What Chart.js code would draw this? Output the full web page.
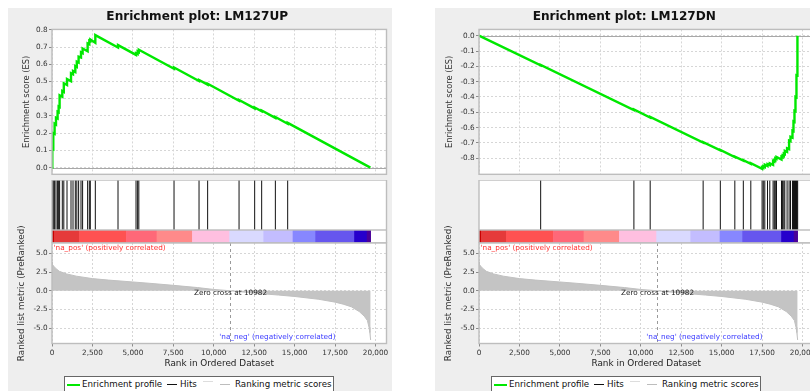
<!DOCTYPE html>
<html>
<head>
<meta charset="utf-8">
<script src="https://cdn.jsdelivr.net/npm/chart.js@4.4.1/dist/chart.umd.min.js"></script>
<style>
  html, body { margin: 0; padding: 0; width: 810px; height: 391px; overflow: hidden; background: #fff; }
  .panel { position: absolute; top: 8px; width: 384px; height: 383px; background: #eeeeee; }
  .panel canvas { position: absolute; left: 0; }
  .legend { position: absolute; left: 56px; top: 368px; width: 268px; height: 20px;
            border: 1px solid #666; background: #fff; font: 8.7px "DejaVu Sans"; color: #111; }
  .legend span { position: absolute; top: 1px; line-height: 12px; white-space: nowrap; }
  .legend i { position: absolute; height: 0; border-top: 1px solid; }
</style>
</head>
<body>
<div class="panel" id="panelUp" style="left:8px"></div>
<div class="panel" id="panelDn" style="left:435px"></div>
<script>
// ---- ranked list (shared by both gene sets) ----
const rankTicks = [0, 2500, 5000, 7500, 10000, 12500, 15000, 17500, 20000];
const rankMax = 20680;
const zeroCross = 10982;

const metricRanks  = [0, 30, 100, 200, 450, 900, 1500, 2500, 3500, 5000, 6000, 7500, 9000, 10000, 10982,
                      12500, 14000, 15000, 16500, 17500, 18000, 18500, 19000, 19300, 19500, 19600, 19650, 19700];
const metricValues = [3.85, 3.5, 3.3, 3.05, 2.6, 2.25, 1.95, 1.62, 1.42, 1.17, 1.0, 0.72, 0.42, 0.17, 0,
                      -0.32, -0.58, -0.77, -1.15, -1.53, -1.8, -2.15, -2.8, -3.4, -4.0, -4.9, -5.6, -6.6];
const metricTicks = [-5, -2.5, 0, 2.5, 5];
const metricRange = [-7.07, 6.39];

// colour bands of the ranked list (start rank, end rank)
const bandStarts = [0, 150, 1700, 4600, 6490, 8680, 10982, 13090, 14900, 16300, 18700, 19480];
const bandEnds   = [150, 1700, 4600, 6490, 8680, 10982, 13090, 14900, 16300, 18700, 19480, 19700];
const bandColors = ['#c80000', '#e53a3a', '#ff5252', '#ff6878', '#ff8a8a', '#ffbfe0',
                    '#d9d9ff', '#c3bdff', '#8787ff', '#6656ee', '#2600cc', '#4a0099'];

// ---- gene set LM127UP ----
const upHitRanks = [19, 80, 161, 247, 346, 410, 470, 637, 730, 928, 1175, 1299, 1441, 1534, 1645, 1793, 1892,
                    2202, 2307, 2369, 2678, 4081, 5195, 5294, 5368, 7544, 9090, 9622, 11564, 12529, 12962,
                    13809, 14570];
const upEsRanks = [0, 19, 19, 80, 80, 161, 161, 247, 247, 346, 346, 410, 410, 470, 470, 637, 637, 730, 730,
                   928, 928, 1175, 1175, 1299, 1299, 1441, 1441, 1534, 1534, 1645, 1645, 1793, 1793, 1892, 1892,
                   2202, 2202, 2307, 2307, 2369, 2369, 2678, 2678, 4081, 4081, 5195, 5195, 5294, 5294, 5368, 5368,
                   7544, 7544, 9090, 9090, 9622, 9622, 11564, 11564, 12529, 12529, 12962, 12962, 13809, 13809,
                   14570, 14570, 19684];
const upEsScores = [0, 0, 0.11, 0.107, 0.2, 0.196, 0.255, 0.25, 0.29, 0.285, 0.325, 0.322, 0.355, 0.352, 0.42,
                    0.412, 0.445, 0.44, 0.49, 0.48, 0.515, 0.502, 0.548, 0.542, 0.562, 0.555, 0.59, 0.585, 0.615,
                    0.61, 0.645, 0.64, 0.67, 0.665, 0.692, 0.676, 0.722, 0.717, 0.738, 0.735, 0.745, 0.726, 0.77,
                    0.698, 0.712, 0.655, 0.665, 0.66, 0.675, 0.671, 0.685, 0.574, 0.582, 0.503, 0.509, 0.482,
                    0.487, 0.388, 0.393, 0.344, 0.349, 0.327, 0.332, 0.289, 0.294, 0.255, 0.26, 0];
const upEsTicks = [0, 0.1, 0.2, 0.3, 0.4, 0.5, 0.6, 0.7, 0.8];
const upEsRange = [-0.039, 0.803];

// ---- gene set LM127DN ----
const dnHitRanks = [3812, 9576, 10583, 13857, 14920, 15816, 16341, 16804, 17502, 17576, 17669, 17836, 17978,
                    18182, 18256, 18318, 18392, 18701, 18769, 18843, 18905, 19047, 19171, 19257, 19380, 19442,
                    19504, 19566, 19627, 19660, 19700];
const dnEsRanks = [0, 3812, 3812, 9576, 9576, 10583, 10583, 13857, 13857, 14920, 14920, 15816, 15816, 16341, 16341,
                   16804, 16804, 17502, 17502, 17576, 17576, 17669, 17669, 17836, 17836, 17978, 17978, 18182, 18182,
                   18256, 18256, 18318, 18318, 18392, 18392, 18701, 18701, 18769, 18769, 18843, 18843, 18905, 18905,
                   19047, 19047, 19171, 19171, 19257, 19257, 19380, 19380, 19442, 19442, 19504, 19504, 19566, 19566,
                   19627, 19627, 19660, 19660, 19700, 19700];
const dnEsScores = [0, -0.194, -0.191, -0.485, -0.482, -0.534, -0.531, -0.698, -0.695, -0.749, -0.746, -0.792,
                    -0.789, -0.816, -0.813, -0.836, -0.833, -0.869, -0.858, -0.862, -0.852, -0.857, -0.842, -0.851,
                    -0.838, -0.845, -0.833, -0.843, -0.818, -0.822, -0.812, -0.815, -0.8, -0.804, -0.792, -0.808,
                    -0.79, -0.794, -0.782, -0.786, -0.77, -0.773, -0.752, -0.759, -0.735, -0.741, -0.685, -0.689,
                    -0.66, -0.666, -0.62, -0.623, -0.56, -0.563, -0.49, -0.493, -0.4, -0.403, -0.26, -0.262, -0.135,
                    -0.137, 0];
const dnEsTicks = [0, -0.1, -0.2, -0.3, -0.4, -0.5, -0.6, -0.7, -0.8];
const dnEsRange = [-0.905, 0.041];

// ---- shared drawing helpers ----
Chart.defaults.font.family = '"DejaVu Sans", sans-serif';
Chart.defaults.color = '#333';

const plotFrame = {
  id: 'plotFrame',
  beforeDraw(chart) {
    const { ctx, chartArea: a } = chart;
    ctx.save();
    ctx.fillStyle = '#ffffff';
    ctx.fillRect(a.left, a.top, a.width, a.height);
    ctx.restore();
  },
  afterDraw(chart) {
    const { ctx, chartArea: a } = chart;
    ctx.save();
    ctx.strokeStyle = '#bdbdbd';
    ctx.lineWidth = 1.4;
    ctx.strokeRect(a.left, a.top, a.width, a.height);
    ctx.restore();
  }
};

const zeroLine = {
  id: 'zeroLine',
  beforeDatasetsDraw(chart, args, opts) {
    if (!opts.show) return;
    const { ctx, chartArea: a, scales: { y } } = chart;
    const py = Math.round(y.getPixelForValue(0)) + 0.5;
    ctx.save();
    ctx.strokeStyle = '#a8a8a8';
    ctx.lineWidth = 1;
    ctx.beginPath();
    ctx.moveTo(a.left, py);
    ctx.lineTo(a.right, py);
    ctx.stroke();
    ctx.restore();
  }
};

const rankNotes = {
  id: 'rankNotes',
  afterDatasetsDraw(chart, args, opts) {
    if (!opts.show) return;
    const { ctx, chartArea: a, scales: { x, y } } = chart;
    const zx = Math.round(x.getPixelForValue(zeroCross)) + 0.5;
    ctx.save();
    ctx.strokeStyle = '#9a9a9a';
    ctx.lineWidth = 1;
    ctx.setLineDash([3, 3]);
    ctx.beginPath();
    ctx.moveTo(zx, a.top);
    ctx.lineTo(zx, a.bottom);
    ctx.stroke();
    ctx.setLineDash([]);
    ctx.font = '7.3px "DejaVu Sans"';
    ctx.textBaseline = 'middle';
    ctx.textAlign = 'center';
    ctx.fillStyle = '#222';
    ctx.fillText('Zero cross at ' + zeroCross, zx, y.getPixelForValue(0) + 2.6);
    ctx.textAlign = 'left';
    ctx.fillStyle = '#ff3333';
    ctx.fillText("'na_pos' (positively correlated)", a.left + 1.5, a.top + 5.4);
    ctx.textAlign = 'right';
    ctx.fillStyle = '#3c3cff';
    ctx.fillText("'na_neg' (negatively correlated)", a.right - 51, a.bottom - 6.3);
    ctx.restore();
  }
};

Chart.register(plotFrame, zeroLine, rankNotes);

const fmtRank = v => String(v).replace(/\B(?=(\d{3})+(?!\d))/g, ',');
const setTicks = list => scale => { scale.ticks = list.map(v => ({ value: v })); };
const base = { responsive: false, animation: false, events: [] };
const noLegend = { legend: { display: false }, tooltip: { enabled: false } };

function addCanvas(panel, top, height) {
  const c = document.createElement('canvas');
  c.width = 384; c.height = height;
  c.style.width = '384px'; c.style.height = height + 'px';
  c.style.top = top + 'px';
  panel.appendChild(c);
  return c;
}

function buildPanel(panel, p) {
  // enrichment score profile
  new Chart(addCanvas(panel, 0, 172), {
    type: 'line',
    data: { datasets: [{
      data: p.esRanks.map((r, i) => ({ x: r, y: p.esScores[i] })),
      borderColor: '#00e800', borderWidth: 2.4, pointRadius: 0, tension: 0, fill: false
    }] },
    options: { ...base,
      layout: { padding: { left: 0, right: 5.5, top: 0, bottom: 0 } },
      plugins: { ...noLegend, zeroLine: { show: true },
        title: { display: true, text: p.title, color: '#111',
                 font: { size: 12.1, weight: 'bold' }, padding: { top: 2, bottom: 4.9 } } },
      scales: {
        x: { type: 'linear', min: 0, max: rankMax, afterBuildTicks: setTicks(rankTicks),
             afterFit: s => { s.height = 0; },
             ticks: { display: false },
             grid: { color: '#d6d6d6', drawTicks: false },
             border: { display: false, dash: [2, 2] } },
        y: { type: 'linear', min: p.esRange[0], max: p.esRange[1], afterBuildTicks: setTicks(p.esTicks),
             afterFit: s => { s.width = 44; },
             ticks: { font: { size: 7.3 }, color: '#333', padding: 1.3, callback: v => v.toFixed(1) },
             grid: { color: '#d6d6d6', tickLength: 3, tickColor: '#8a8a8a' },
             border: { display: false, dash: [2, 2] },
             title: { display: true, text: 'Enrichment score (ES)', color: '#333',
                      font: { size: 8.3 }, padding: { top: p.esTitlePad, bottom: 0 } } }
      }
    }
  });

  // hit positions
  new Chart(addCanvas(panel, 172, 50), {
    type: 'bar',
    data: { datasets: [{
      data: p.hits.map(r => ({ x: r, y: 1 })),
      backgroundColor: '#111', barThickness: 1, borderWidth: 0, inflateAmount: 0, grouped: false
    }] },
    options: { ...base,
      layout: { padding: { left: 44, right: 5.5, top: 0, bottom: 0 } },
      plugins: { ...noLegend },
      scales: {
        x: { type: 'linear', min: 0, max: rankMax, offset: false, display: false },
        y: { type: 'linear', min: 0, max: 1, display: false }
      }
    }
  });

  // ranked list colour bar
  new Chart(addCanvas(panel, 222, 13), {
    type: 'bar',
    data: { labels: ['band'], datasets: [{
      data: bandStarts.map((s, i) => ({ x: [s, bandEnds[i]], y: 'band' })),
      backgroundColor: bandColors, borderWidth: 0,
      categoryPercentage: 1, barPercentage: 1, grouped: false
    }] },
    options: { ...base, indexAxis: 'y',
      layout: { padding: { left: 44, right: 5.5, top: 0, bottom: 0 } },
      plugins: { ...noLegend },
      scales: {
        x: { type: 'linear', min: 0, max: rankMax, offset: false, display: false },
        y: { type: 'category', display: false }
      }
    }
  });

  // ranked list metric (canvas starts above the plot so the long axis title fits)
  new Chart(addCanvas(panel, 217, 146), {
    type: 'line',
    data: { datasets: [{
      data: metricRanks.map((r, i) => ({ x: r, y: metricValues[i] })),
      borderColor: '#c0c0c0', backgroundColor: '#c4c4c4', borderWidth: 1,
      pointRadius: 0, tension: 0, fill: 'origin'
    }] },
    options: { ...base,
      layout: { padding: { left: 0, right: 5.5, top: 18, bottom: 0 } },
      plugins: { ...noLegend, rankNotes: { show: true } },
      scales: {
        x: { type: 'linear', min: 0, max: rankMax, afterBuildTicks: setTicks(rankTicks),
             afterFit: s => { s.height = 27.5; },
             ticks: { font: { size: 7.3 }, color: '#333', padding: 2, maxRotation: 0, autoSkip: false,
                      callback: v => fmtRank(v) },
             grid: { color: '#d6d6d6', tickLength: 3, tickColor: '#8a8a8a' },
             border: { display: false, dash: [2, 2] },
             title: { display: true, text: 'Rank in Ordered Dataset', color: '#222',
                      font: { size: 8.9 }, padding: { top: 0, bottom: 2.3 } } },
        y: { type: 'linear', min: metricRange[0], max: metricRange[1], afterBuildTicks: setTicks(metricTicks),
             afterFit: s => { s.width = 44; },
             ticks: { font: { size: 7.3 }, color: '#333', padding: 1.3, callback: v => v.toFixed(1) },
             grid: { color: '#d6d6d6', tickLength: 3, tickColor: '#8a8a8a' },
             border: { display: false, dash: [2, 2] },
             title: { display: true, text: 'Ranked list metric (PreRanked)', color: '#333',
                      font: { size: 8.8 }, padding: { top: p.metricTitlePad, bottom: 0 } } }
      }
    }
  });

  // legend
  const lg = document.createElement('div');
  lg.className = 'legend';
  lg.innerHTML =
    '<i style="left:2px;top:7px;width:13px;border-color:#00e800;border-top-width:2px"></i>' +
    '<span style="left:17px">Enrichment profile</span>' +
    '<i style="left:102px;top:7px;width:10px;border-color:#111"></i>' +
    '<span style="left:115px">Hits</span>' +
    '<i style="left:138px;top:4px;width:10px;border-color:#dddddd"></i>' +
    '<i style="left:155px;top:7px;width:10px;border-color:#bdbdbd"></i>' +
    '<span style="left:170px">Ranking metric scores</span>';
  panel.appendChild(lg);
}

buildPanel(document.getElementById('panelUp'), {
  title: 'Enrichment plot: LM127UP',
  esRanks: upEsRanks, esScores: upEsScores, esTicks: upEsTicks, esRange: upEsRange,
  hits: upHitRanks, esTitlePad: 13.4, metricTitlePad: 8.4
});
buildPanel(document.getElementById('panelDn'), {
  title: 'Enrichment plot: LM127DN',
  esRanks: dnEsRanks, esScores: dnEsScores, esTicks: dnEsTicks, esRange: dnEsRange,
  hits: dnHitRanks, esTitlePad: 9.7, metricTitlePad: 8.7
});
</script>
</body>
</html>
